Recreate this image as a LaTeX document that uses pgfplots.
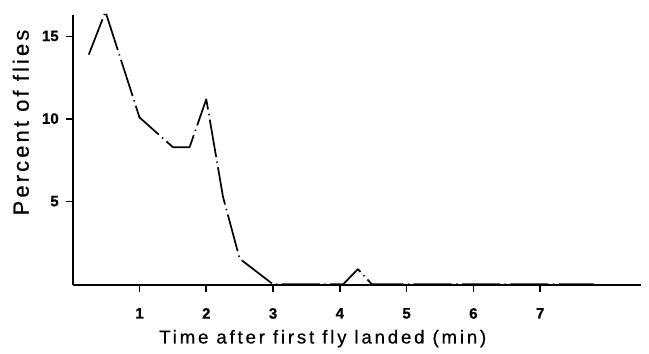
\documentclass[border=0pt]{standalone}
\usepackage{fontspec}
\setmainfont{Liberation Sans}
\newfontfamily\xlabelfont[LetterSpace=15.2, FakeBold=0.6]{Liberation Sans}
\newfontfamily\ylabelfont[LetterSpace=14, FakeBold=0.6]{Liberation Sans}
\newfontfamily\tickfont[FakeBold=0.8]{Liberation Sans Bold}
\usepackage{pgfplots}
\pgfplotsset{compat=1.18}

\begin{document}
\begin{tikzpicture}
\begin{axis}[
  scale only axis,
  width=568bp, height=270bp,
  xmin=0, xmax=8.51,
  ymin=-0.05, ymax=16.3,
  axis lines=left,
  axis line style={line width=1.8bp, -},
  clip=false,
  xtick={1,2,3,4,5,6,7},
  ytick={5,10,15},
  tick style={line width=1.6bp, black},
  major tick length=6.5bp,
  tick align=outside,
  /pgf/number format/assume math mode=true,
  ticklabel style={font=\tickfont\fontsize{15bp}{16bp}\selectfont},
  xticklabel style={yshift=-13bp},
  yticklabel style={xshift=-4bp, yshift=0.5bp},
  xlabel={Time after first fly landed (min)},
  ylabel={Percent of flies},
  xlabel style={font=\xlabelfont\fontsize{18.6bp}{20bp}\selectfont,
    at={(rel axis cs:0.44,0)}, anchor=base, yshift=-58.3bp},
  ylabel style={font=\ylabelfont\fontsize{22bp}{24bp}\selectfont,
    at={([xshift=-44bp]rel axis cs:0,0.602)}, anchor=base},
]
% page frame around the axis
\path (rel axis cs:0,0) ++(-72.7bp,-68bp);
\path (rel axis cs:1,1) ++(8bp,15bp);

\addplot[black, line width=1.7bp, line join=round,
  dash pattern=on 38bp off 4.5bp on 1.3bp off 4.5bp]
  coordinates {
    (0.24,13.9) (0.49,16.5) (1.0,10.1) (1.5,8.3) (1.75,8.3)
    (2.0,11.2) (2.25,5.3) (2.5,1.55) (3.0,0) (4.05,0)
    (4.27,0.92) (4.48,0) (7.8,0)
  };
\end{axis}
\end{tikzpicture}
\end{document}
